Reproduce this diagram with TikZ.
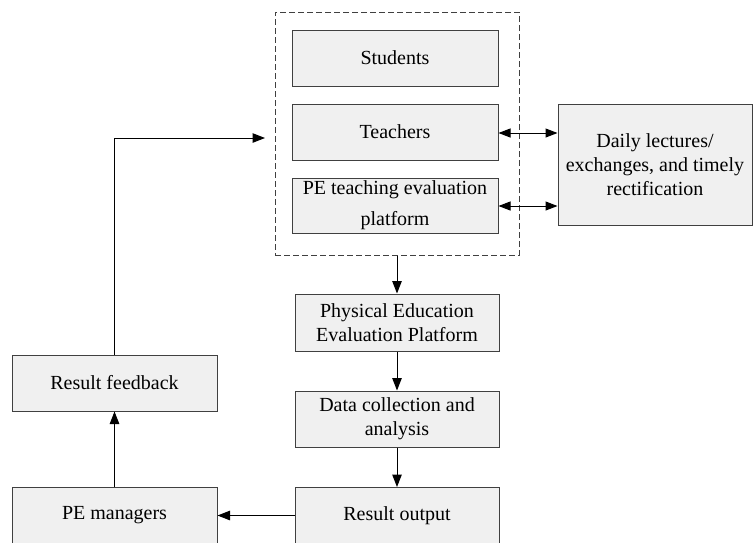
\documentclass[tikz,border=0pt]{standalone}
\usepackage{fontspec}
\setmainfont{Liberation Serif}
\usetikzlibrary{arrows.meta}
\definecolor{boxfill}{HTML}{F0F0F0}
\definecolor{boxline}{HTML}{404040}
\tikzset{
  box/.style={draw=boxline, fill=boxfill, line width=1pt, rectangle,
    inner sep=2pt, align=center, font=\fontsize{20}{24}\selectfont},
  group/.style={draw=boxline, dashed, dash pattern=on 6pt off 3pt, line width=1pt,
    rectangle, inner sep=0pt},
  tip/.style={Triangle[length=12.5pt,width=9.5pt]},
  flow/.style={line width=1pt, -{Triangle[length=12.5pt,width=9.5pt]}},
  twoway/.style={line width=1pt, {Triangle[length=12pt,width=9pt]}-{Triangle[length=12pt,width=9pt]}}
}
\begin{document}
\begin{tikzpicture}[x=1pt,y=-1pt]
\useasboundingbox (0,0) rectangle (753,542);
\clip (0,0) rectangle (753,542);
\fill[white] (0,0) rectangle (753,542);

% participants grouped in a dashed frame
\node[group, minimum width=244pt, minimum height=243pt] (grp) at (397,133.5) {};
\node[box, minimum width=206pt, minimum height=56pt] (stu) at (395,58) {Students};
\node[box, minimum width=206pt, minimum height=56pt] (tea) at (395,132) {Teachers};
\node[box, minimum width=206pt, minimum height=55pt, font=\fontsize{20}{31}\selectfont] (pet) at (395,205.5) {PE teaching evaluation\\platform};

% daily interaction
\node[box, minimum width=194pt, minimum height=121pt] (daily) at (655,164.5) {Daily lectures/\\exchanges, and timely\\rectification};

% evaluation chain
\node[box, minimum width=204pt, minimum height=57pt] (peep) at (397,322.5) {Physical Education\\Evaluation Platform};
\node[box, minimum width=204pt, minimum height=56pt] (data) at (397,419) {Data collection and\\analysis};
\node[box, minimum width=204pt, minimum height=56pt] (out) at (397,515.5) {Result output};

% management loop
\node[box, minimum width=205pt, minimum height=56pt] (fb) at (114.5,383) {Result feedback};
\node[box, minimum width=205pt, minimum height=56pt] (mgr) at (114.5,515.5) {PE managers};
\coordinate (entry) at (265,138);

\draw[twoway] (tea.east |- 0,133) -- (daily.west |- 0,133);
\draw[twoway] (pet.east |- 0,206) -- (daily.west |- 0,206);
\draw[flow] (grp.south) -- (grp.south |- peep.north);
\draw[flow] (peep) -- (data);
\draw[flow] (data) -- (out);
\draw[flow] (out.west) -- (mgr.east);
\draw[flow] (mgr) -- (fb);
\draw[flow] (fb.north) |- (entry);
\end{tikzpicture}
\end{document}
